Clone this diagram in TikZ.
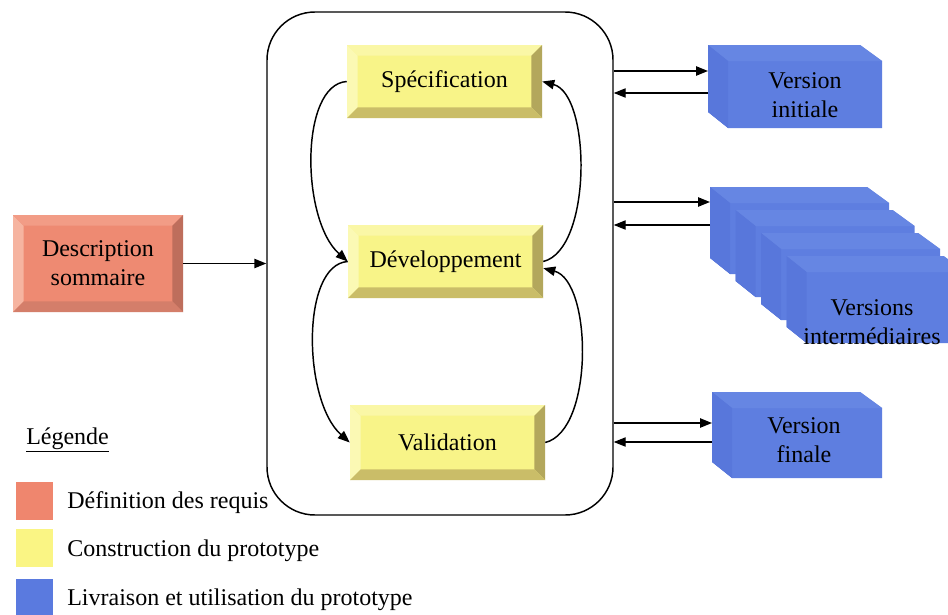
\documentclass[tikz,border=0pt]{standalone}
\usepackage{fontspec}
\setmainfont{Liberation Serif}
\usetikzlibrary{arrows.meta,calc}

% phase colours
\definecolor{salFace}{HTML}{EE8A72}
\definecolor{salL}{HTML}{F6B4A0}
\definecolor{salT}{HTML}{F29C86}
\definecolor{salR}{HTML}{BE6E5C}
\definecolor{salB}{HTML}{D47E6A}
\definecolor{yelFace}{HTML}{F8F488}
\definecolor{yelL}{HTML}{FBF9B4}
\definecolor{yelT}{HTML}{FAF7A6}
\definecolor{yelR}{HTML}{B3A75C}
\definecolor{yelB}{HTML}{CABD68}
\definecolor{bluFront}{HTML}{5E7EE0}
\definecolor{bluTop}{HTML}{6686E3}
\definecolor{bluLeft}{HTML}{5877DB}
\definecolor{keyOrange}{HTML}{EF866E}
\definecolor{keyYellow}{HTML}{FAF584}
\definecolor{keyBlue}{HTML}{5A7ADF}

\def\bevw{8pt}
% bevelled edges of a raised button, drawn inside the node
\newcommand\bevelfaces[4]{%
  \path (path picture bounding box.north west) coordinate (bv-nw)
        (path picture bounding box.north east) coordinate (bv-ne)
        (path picture bounding box.south west) coordinate (bv-sw)
        (path picture bounding box.south east) coordinate (bv-se);
  \fill[#1] (bv-nw) -- (bv-sw) -- ([shift={(\bevw,\bevw)}]bv-sw) -- ([shift={(\bevw,-\bevw)}]bv-nw) -- cycle;
  \fill[#2] (bv-nw) -- (bv-ne) -- ([shift={(-\bevw,-\bevw)}]bv-ne) -- ([shift={(\bevw,-\bevw)}]bv-nw) -- cycle;
  \fill[#3] (bv-ne) -- (bv-se) -- ([shift={(-\bevw,\bevw)}]bv-se) -- ([shift={(-\bevw,-\bevw)}]bv-ne) -- cycle;
  \fill[#4] (bv-sw) -- (bv-se) -- ([shift={(-\bevw,\bevw)}]bv-se) -- ([shift={(\bevw,\bevw)}]bv-sw) -- cycle;
}
% a solid block seen from the upper left: left, top, right, bottom
\newcommand\blockfaces[4]{%
  \fill[bluFront] (#1,#2) -- ({#3-22},#2) -- (#3,{#2+16}) -- (#3,#4) -- ({#1+20},#4) -- (#1,{#4-16}) -- cycle;
  \fill[bluTop] (#1,#2) -- ({#3-22},#2) -- (#3,{#2+16}) -- ({#1+20},{#2+16}) -- cycle;
  \fill[bluLeft] (#1,#2) -- ({#1+20},{#2+16}) -- ({#1+20},#4) -- (#1,{#4-16}) -- cycle;
}

\tikzset{
  lbl/.style={font=\fontsize{18}{21.5}\selectfont, align=center, text=black},
  keytext/.style={font=\fontsize{18}{21.5}\selectfont, anchor=west, inner sep=0pt, text=black},
  arr/.style={line width=1.1pt, -{Triangle[length=9pt,width=7pt]}},
  bevel/.style n args={5}{fill=#1, inner sep=0pt, path picture={\bevelfaces{#2}{#3}{#4}{#5}}},
  salbox/.style={bevel={salFace}{salL}{salT}{salR}{salB}, lbl},
  yelbox/.style={bevel={yelFace}{yelL}{yelT}{yelR}{yelB}, lbl,
    minimum width=146.25pt, minimum height=54.75pt},
  keysq/.style={minimum width=27.75pt, minimum height=28.5pt, inner sep=0pt},
}

\begin{document}
\begin{tikzpicture}[x=0.75pt, y=-0.75pt]
\clip (0,0) rectangle (948,614);
\fill[white] (0,0) rectangle (948,614);

% prototype loop frame
\node[draw, line width=1.1pt, rounded corners=36pt, minimum width=259.5pt,
      minimum height=377.25pt, inner sep=0pt] (proto) at (440,263.5) {};

% requirements
\node[salbox, minimum width=127.5pt, minimum height=72.75pt] (desc) at (98,263.5) {Description\\sommaire};

% prototype construction steps
\node[yelbox] (spec) at (444.5,81.5) {Spécification};
\node[yelbox] (dev) at (445.5,261.5) {Développement};
\node[yelbox, minimum height=56.25pt] (val) at (447.5,442.5) {Validation};

% delivered versions
\blockfaces{708}{45}{882}{128}
\node[lbl] (vinit) at (805,95) {Version\\initiale};
\foreach \i in {0,...,3}{
  \blockfaces{710+25.5*\i}{187+23*\i}{889+25.5*\i}{274+23*\i}
}
\node[lbl] (vint) at (872,322) {Versions\\intermédiaires};
\blockfaces{712}{392}{882}{478}
\node[lbl] (vfin) at (804,440) {Version\\finale};

\coordinate (vinit-in) at (708,71);
\coordinate (vinit-out) at (708,93);
\coordinate (vint-in) at (710,202);
\coordinate (vint-out) at (710,225);
\coordinate (vfin-in) at (712,423);
\coordinate (vfin-out) at (712,442);

% connectors
\draw[arr] (desc.east) -- (proto.west);
\draw[arr] (spec.west) .. controls +(-47,3) and +(-47,-42) .. (dev.west);
\draw[arr] (dev.west) .. controls +(-47,3) and +(-47,-42) .. (val.west);
\draw[arr] (dev.east) .. controls +(49,-12) and +(49,13) .. (spec.east);
\draw[arr] (val.east) .. controls +(49,-12) and +(49,13) .. ([yshift=-5pt]dev.east);

\foreach \v in {vinit,vint,vfin}{
  \draw[arr] (proto.east |- \v-in) -- (\v-in);
  \draw[arr, line width=0.8pt] (\v-out) -- (proto.east |- \v-out);
}

% legend
\node[keytext] (leg) at (26,440) {\underline{Légende}};
\node[keysq, fill=keyOrange] (k1) at (34.5,501) {};
\node[keysq, fill=keyYellow] (k2) at (34.5,547.5) {};
\node[keysq, fill=keyBlue] (k3) at (34.5,598) {};
\node[keytext] (t1) at (67,503) {Définition des requis};
\node[keytext] (t2) at (67,551) {Construction du prototype};
\node[keytext] (t3) at (67,600) {Livraison et utilisation du prototype};
\end{tikzpicture}
\end{document}
